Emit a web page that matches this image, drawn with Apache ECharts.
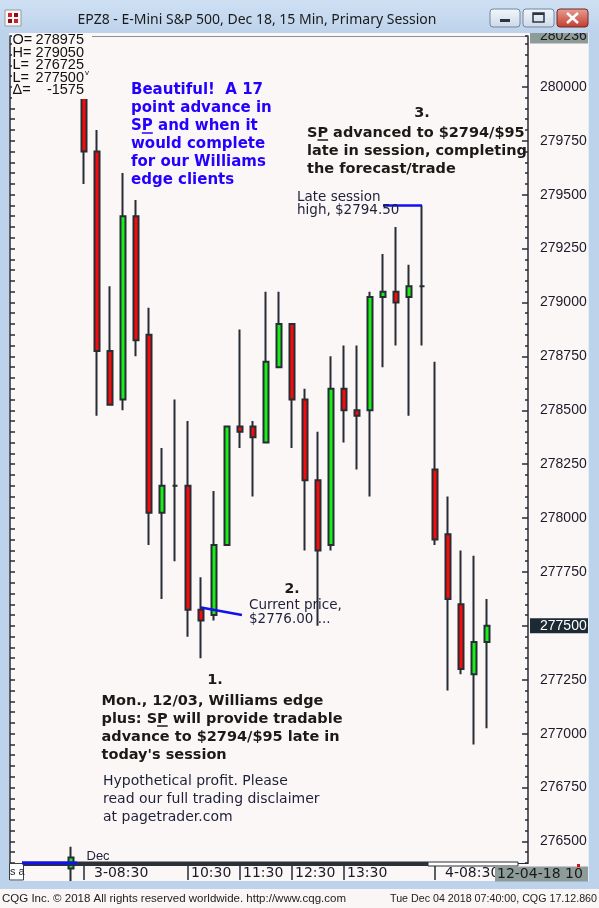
<!DOCTYPE html>
<html><head><meta charset="utf-8">
<script src="https://cdn.jsdelivr.net/npm/echarts@6/dist/echarts.min.js"></script>
<style>html,body{margin:0;padding:0;background:#FCF7F7;}#c{width:599px;height:908px;}</style>
</head><body><div id="c"></div>
<script>
// ---- data ----
const times = ['11-30 15:00',
  '12-03 08:30','12-03 08:45','12-03 09:00','12-03 09:15','12-03 09:30','12-03 09:45','12-03 10:00','12-03 10:15',
  '12-03 10:30','12-03 10:45','12-03 11:00','12-03 11:15','12-03 11:30','12-03 11:45','12-03 12:00','12-03 12:15',
  '12-03 12:30','12-03 12:45','12-03 13:00','12-03 13:15','12-03 13:30','12-03 13:45','12-03 14:00','12-03 14:15',
  '12-03 14:30','12-03 14:45','12-03 15:00',
  '12-04 08:30','12-04 08:45','12-04 09:00','12-04 09:15','12-04 09:30'];
const opens  = [276375,280075,279700,278775,278550,279400,278850,278025,278150,278150,277575,277550,277875,278425,278425,278350,278700,278900,278550,278175,277875,278600,278500,278500,279025,279050,279025,279075,278225,277925,277600,277275,277425];
const closes = [276425,279700,278775,278525,279400,278825,278025,278150,278150,277575,277525,277875,278425,278400,278375,278725,278900,278550,278175,277850,278600,278500,278475,279025,279050,279000,279075,279075,277900,277625,277300,277425,277500];
const lows   = [276300,279550,278475,278525,278500,278750,277875,277625,277800,277450,277350,277525,277875,278325,278100,278350,278700,278325,277850,277500,277850,278350,278225,278100,278700,278800,278475,278800,277875,277200,277275,276950,277025];
const highs  = [276475,280200,279800,279075,279600,279475,278975,278325,278550,278450,277725,278125,278425,278875,278450,279050,279050,278900,278600,278400,278750,278800,278800,279050,279225,279350,279175,279450,278725,278100,277850,277825,277625];
const priceTicks = [276500,276750,277000,277250,277500,277750,278000,278250,278500,278750,279000,279250,279500,279750,280000];
const timeTickKeys = ['12-03 08:30','12-03 10:30','12-03 11:30','12-03 12:30','12-03 13:30','12-04 08:30'];
const timeTickLabels = ['3-08:30','10:30','11:30','12:30','13:30','4-08:30'];
const infoLabels = ['O=','H=','L=','L=','\u0394='];
const infoValues = ['278975','279050','276725','277500','-1575'];
const axisTop = 280236, axisBottom = 276400;
const lastPrice = closes[closes.length - 1];

// ---- helpers ----
const BG = '#FCF7F7', INK = '#262D34';
const xMin = -61/13, xMax = 457/13;
const candles = times.map((t,i) => [i, opens[i], closes[i], lows[i], highs[i]]);
const xTickIdx = timeTickKeys.map(k => times.indexOf(k));
const hiIdx = times.indexOf('12-03 15:00');
const hiStart = times.indexOf('12-03 14:15');
const cpIdx = times.indexOf('12-03 10:45');
const mctx = document.createElement('canvas').getContext('2d');
function tw(t, f){ mctx.font = f; return mctx.measureText(t).width; }
const LG = (a,b) => new echarts.graphic.LinearGradient(0,0,0,1,[{offset:0,color:a},{offset:1,color:b}]);

const blueF = 'bold 15px "DejaVu Sans"', blackF = 'bold 14.5px "DejaVu Sans"';
const G = [];
function txt(x,y,text,o){ G.push(Object.assign({type:'text', x:x, y:y, z:100, style:Object.assign({text:text, fill:'#1c1a16', fontFamily:'DejaVu Sans', fontSize:14, verticalAlign:'middle'}, o||{})})); }
function rect(x,y,w,h,style,z){ G.push({type:'rect', z:z||100, shape:{x:x,y:y,width:w,height:h,r:style.r||0}, style:style}); }
function line(x1,y1,x2,y2,stroke,w){ G.push({type:'line', z:101, shape:{x1:x1,y1:y1,x2:x2,y2:y2}, style:{stroke:stroke, lineWidth:w}}); }

// window chrome
rect(0,0,599,33,{fill:LG('#CFE0F3','#BDD3EB')});
rect(0,33,9,856,{fill:'#BCD3EB'});
rect(589,33,10,856,{fill:'#BCD3EB'});
rect(588,33,1,848,{fill:'#E4EEF8'});
rect(0,881,599,8,{fill:'#BCD3EB'});
rect(0,889,599,19,{fill:'#FAF6F6'});
// icon
rect(5,10,16,16,{fill:'#F6F6F6', stroke:'#9A9A9A', lineWidth:1});
rect(8,13,4,4,{fill:'#D0202A'}); rect(14,13,4,4,{fill:'#8A1018'}); rect(8,19,4,4,{fill:'#8A1018'}); rect(14,19,4,4,{fill:'#D0202A'});
// title
txt(257,20,'EPZ8 - E-Mini S&P 500, Dec 18, 15 Min, Primary Session',{fontFamily:'Noto Sans', fontSize:14, align:'center', fill:'#1A1A1A'});
// buttons
rect(490,9,30,18,{fill:LG('#F3F7FC','#CCD9E8'), stroke:'#74869E', lineWidth:1, r:3});
rect(500,19,10,3,{fill:'#2D3440'});
rect(523,9,31,18,{fill:LG('#F3F7FC','#CCD9E8'), stroke:'#74869E', lineWidth:1, r:3});
rect(533,13,11,9,{fill:'none', stroke:'#2D3440', lineWidth:1.5});
rect(533,13,11,2,{fill:'#2D3440'});
rect(557,9,31,18,{fill:LG('#E8A093','#C23B2E'), stroke:'#6E2A25', lineWidth:1, r:3});
line(567,13,578,23,'#FFFFFF',2.5); line(578,13,567,23,'#FFFFFF',2.5);

// info box
rect(12,35,80,64,{fill:BG});
infoLabels.forEach((l,i) => {
  const y = 40 + i*12.6;
  txt(12.5,y,l,{fontFamily:'Liberation Sans', fontSize:14.5, fill:'#111'});
  txt(84,y,infoValues[i],{fontFamily:'Liberation Sans', fontSize:14.5, fill:'#111', align:'right'});
});
txt(85,73,'v',{fontFamily:'Liberation Sans', fontSize:8, fill:'#111'});

// annotations
txt(131,81,'Beautiful!  A 17\npoint advance in\nSP and when it\nwould complete\nfor our Williams\nedge clients',
  {fontFamily:'DejaVu Sans', fontWeight:'bold', fontSize:15, lineHeight:18, fill:'#2400FF', verticalAlign:'top'});
line(131+tw('S',blueF), 133, 131+tw('SP',blueF), 133, '#2400FF', 1.5);

txt(422,113,'3.',{fontWeight:'bold', fontSize:14.5, align:'center'});
txt(307,124,'SP advanced to $2794/$95\nlate in session, completing\nthe forecast/trade',
  {fontWeight:'bold', fontSize:14.5, lineHeight:18, verticalAlign:'top', width:221, overflow:'truncate', ellipsis:''});
line(307+tw('S',blackF), 140, 307+tw('SP',blackF), 140, '#1c1a16', 1.5);

txt(297,190.5,'Late session\nhigh, $2794.50',{fontSize:13.5, lineHeight:13.5, verticalAlign:'top', fill:'#1d2038'});
txt(292,589,'2.',{fontWeight:'bold', fontSize:14, align:'center'});
txt(249,598.5,'Current price,\n$2776.00 ...',{fontSize:13.5, lineHeight:14, verticalAlign:'top', fill:'#1d2038'});

txt(215,680,'1.',{fontWeight:'bold', fontSize:14.5, align:'center'});
txt(101.5,692,'Mon., 12/03, Williams edge\nplus: SP will provide tradable\nadvance to $2794/$95 late in\ntoday\'s session',
  {fontWeight:'bold', fontSize:14.5, lineHeight:18, verticalAlign:'top'});
line(101.5+tw('plus: S',blackF), 726, 101.5+tw('plus: SP',blackF), 726, '#1c1a16', 1.5);

txt(103,772,'Hypothetical profit. Please\nread our full trading disclaimer\nat pagetrader.com',
  {fontSize:14, lineHeight:18, verticalAlign:'top', fill:'#1d2038'});
txt(86.5,856,'Dec',{fontFamily:'Liberation Sans', fontSize:13, fill:'#1d2038'});

// bottom scroller / boxes
rect(22,861.5,406,4.5,{fill:'#2B3137'});
rect(428,862,90,4,{fill:'#FFFFFF', stroke:'#2B3137', lineWidth:1});
rect(22,861.5,55,3,{fill:'#1010F0'},102);
rect(9.5,863.5,14,16.5,{fill:'#FFFFFF', stroke:'#3A3F45', lineWidth:1});
txt(10,872,'s a',{fontFamily:'Liberation Sans', fontSize:11, fill:'#222'});
rect(495,866.5,93,15,{fill:'#8E9C99'});
txt(497,874,'12-04-18 10:30',{fontFamily:'DejaVu Sans', fontSize:14, fill:'#1a1a1a', width:91, overflow:'truncate', ellipsis:''});
rect(577,864,3,3,{fill:'#E01010'});

// footer
txt(2,899,'CQG Inc. \u00A9 2018 All rights reserved worldwide. http://www.cqg.com',{fontFamily:'Liberation Sans', fontSize:11.5, fill:'#222'});
txt(597,899,'Tue Dec 04 2018 07:40:00, CQG 17.12.860',{fontFamily:'Liberation Sans', fontSize:10.7, fill:'#222', align:'right'});

const yBase = {type:'value', min:axisBottom, max:axisTop, splitLine:{show:false}, scale:true};
const option = {
  animation:false,
  backgroundColor:BG,
  grid:{left:10, right:71, top:36, bottom:45, show:true, backgroundColor:BG, borderWidth:0},
  xAxis:[
    {type:'value', min:xMin, max:xMax, position:'bottom', splitLine:{show:false},
     axisLine:{show:true, onZero:false, lineStyle:{color:INK, width:1}},
     axisTick:{show:true, customValues:xTickIdx, length:17, lineStyle:{color:INK, width:1.5}},
     axisLabel:{customValues:xTickIdx, margin:3, align:'left',
       formatter:(v) => { const s = timeTickLabels[xTickIdx.indexOf(v)] || ''; return (s.indexOf('-')>0 ? '{d|' : '{h|') + s + '}'; },
       rich:{d:{padding:[0,0,0,10], fontFamily:'DejaVu Sans', fontSize:14, color:'#1a1a28'},
             h:{padding:[0,0,0,3], fontFamily:'DejaVu Sans', fontSize:14, color:'#1a1a28'}}}},
    {type:'value', min:xMin, max:xMax, position:'top', splitLine:{show:false},
     axisLine:{show:true, onZero:false, lineStyle:{color:'#8A8F94', width:1}}, axisTick:{show:false}, axisLabel:{show:false}}
  ],
  yAxis:[
    Object.assign({}, yBase, {position:'right',
      axisLine:{show:true, onZero:false, lineStyle:{color:INK, width:1.5}},
      axisTick:{show:true, inside:true, length:6, customValues:priceTicks, lineStyle:{color:INK, width:1.5}},
      axisLabel:{customValues:priceTicks, margin:12, align:'left', fontFamily:'Liberation Sans', fontSize:14, color:'#1a1a28',
        formatter:(v) => v === lastPrice ? '' : String(v)}}),
    Object.assign({}, yBase, {position:'right', interval:50,
      axisLine:{show:false, onZero:false}, axisTick:{show:true, inside:true, length:3, lineStyle:{color:INK, width:1.5}}, axisLabel:{show:false}}),
    Object.assign({}, yBase, {position:'left', interval:50,
      axisLine:{show:true, onZero:false, lineStyle:{color:INK, width:1.5}}, axisTick:{show:true, inside:true, length:5, lineStyle:{color:INK, width:1.5}}, axisLabel:{show:false}}),
    Object.assign({}, yBase, {position:'right',
      axisLine:{show:false, onZero:false}, axisTick:{show:false},
      axisLabel:{customValues:[axisTop, lastPrice], margin:2, align:'left',
        formatter:(v) => (v === lastPrice ? '{cur|' : '{top|') + v + '}',
        rich:{cur:{backgroundColor:'#1E2A33', color:'#FFFFFF', padding:[1,2,0,10], fontFamily:'Liberation Sans', fontSize:14},
              top:{backgroundColor:'#8E9C99', color:'#1a1a1a', padding:[1,2,0,10], fontFamily:'Liberation Sans', fontSize:14}}}})
  ],
  series:[{
    type:'candlestick', xAxisIndex:0, yAxisIndex:0, data:candles, barWidth:5,
    itemStyle:{color:'#16F016', color0:'#FA0A0A', borderColor:INK, borderColor0:INK, borderColorDoji:INK, borderWidth:2},
    markLine:{silent:true, symbol:'none', label:{show:false}, lineStyle:{color:'#1010F0', width:2.5, type:'solid'},
      data:[
        [{coord:[cpIdx, 277585]}, {coord:[cpIdx + 3.15, 277550]}],
        [{coord:[hiStart, highs[hiIdx]]}, {coord:[hiIdx, highs[hiIdx]]}]
      ]}
  }],
  graphic:G
};
const chart = echarts.init(document.getElementById('c'), null, {width:599, height:908});
chart.setOption(option);
</script></body></html>
